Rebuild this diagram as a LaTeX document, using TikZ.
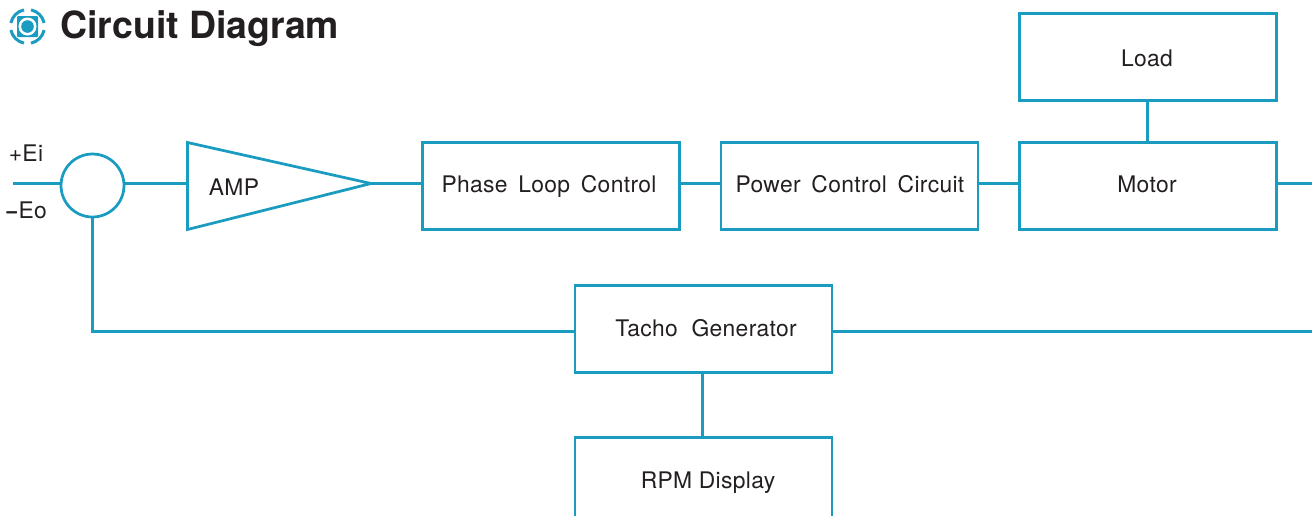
\documentclass[tikz,border=0pt]{standalone}
\usepackage{fontspec}
\setmainfont{TeX Gyre Heros}
\newfontfamily\lblfont[WordSpace=1.6,LetterSpace=1.5]{TeX Gyre Heros}
\usepackage{tikz}
\definecolor{wirecol}{HTML}{1A9BC0}
\definecolor{textcol}{HTML}{231F20}
\tikzset{
  wire/.style={draw=wirecol,line width=.055cm},
  blockbox/.style={wire,minimum width=5.14cm,minimum height=1.74cm,outer sep=0pt,inner sep=0pt},
  lbl/.style={text=textcol,inner sep=0pt,text height=11.1pt,text depth=1.1pt,font=\lblfont\fontsize{13}{15}\selectfont}
}
\begin{document}
\begin{tikzpicture}[x=.02cm,y=-.02cm]
\useasboundingbox (0,0) rectangle (1312,515);
\clip (0,0) rectangle (1312,515);
% icon
\fill[wirecol,rounded corners=.02cm] (17,16) rectangle (38,37);
\fill[white] (27.5,26.5) circle (9);
\fill[wirecol] (27.5,26.5) circle (6.3);
\foreach \a in {0,90,180,270}
  \draw[wirecol,line width=.06cm] ([shift={(\a+12:.34cm)}]27.5,26.5) arc (\a+12:\a+78:.34cm);
\node[text=textcol,inner sep=0pt,anchor=west,text height=16.7pt,text depth=2.8pt,font=\fontsize{21.3}{25}\selectfont\bfseries] (title) at (60,26) {Circuit Diagram};
% forward path
\coordinate (in) at (13,183.5);
\coordinate (out) at (1312,183.5);
\coordinate (fb) at (1312,331.5);
\coordinate (tap) at (702.2,400);
\node[wire,circle,minimum size=1.26cm,inner sep=0pt,outer sep=0pt] (sum) at (92.5,185.5) {};
\coordinate (ampin) at (187.5,183.5);
\coordinate (amptip) at (371,183.5);
\draw[wire,line join=miter] (187.5,142.5) -- (amptip) -- (187.5,229.5) -- cycle;
\node[lbl] (amp) at (234,187) {AMP};
\node[blockbox] (phase) at (550.7,185.7) {};
\node[blockbox] (power) at (849.5,185.7) {};
\node[blockbox] (motor) at (1147.7,185.7) {};
\node[blockbox] (load) at (1147.7,56.7) {};
\node[blockbox] (tacho) at (703.5,328.7) {};
\node[blockbox] (rpm) at (703.5,480.7) {};
\node[lbl] (phasetxt) at (549,184) {Phase Loop Control};
\node[lbl] (powertxt) at (850,184) {Power Control Circuit};
\node[lbl] (motortxt) at (1147,184) {Motor};
\node[lbl] (loadtxt) at (1147,58) {Load};
\node[lbl] (tachotxt) at (706,328) {Tacho\kern.06cm\ Generator};
\node[lbl] (rpmtxt) at (708,480) {RPM\kern-.08cm\ Display};
\node[lbl] (eitxt) at (26,153) {+Ei};
\node[lbl] (eotxt) at (26,210) {{\bfseries−}Eo};
% connectors
\draw[wire] (in) -- (in -| sum.west);
\draw[wire] (in -| sum.east) -- (ampin);
\draw[wire] (amptip) -- (phase.west |- in);
\draw[wire] (phase.east |- in) -- (power.west |- in);
\draw[wire] (power.east |- in) -- (motor.west |- in);
\draw[wire] (motor.east |- in) -- (out);
\draw[wire] (load) -- (motor);
\draw[wire] (sum.south) |- (tacho.west |- fb);
\draw[wire] (tacho.east |- fb) -- (fb);
\draw[wire] (tacho.south -| tap) -- (rpm.north -| tap);
\end{tikzpicture}
\end{document}
